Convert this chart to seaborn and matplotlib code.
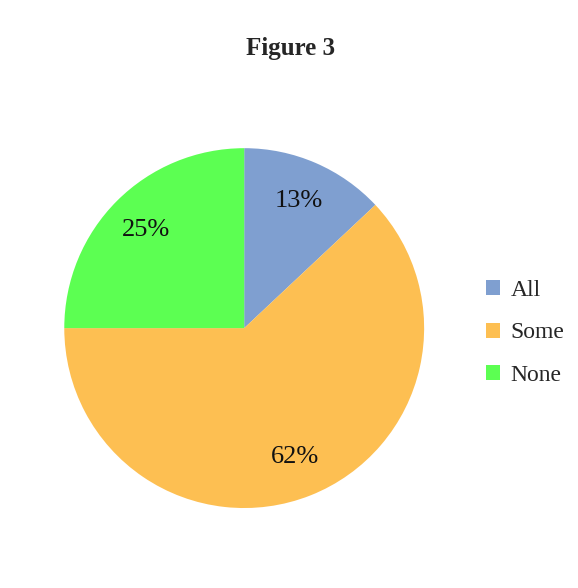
import matplotlib
matplotlib.use("Agg")
import matplotlib.pyplot as plt
import seaborn as sns

categories = ["All", "Some", "None"]
values = [13, 62, 25]
colors = ["#7f9fd0", "#fdbf52", "#5cff52"]
title = "Figure 3"

sns.set_theme(style="white")
plt.rcParams["font.family"] = ["Liberation Serif", "DejaVu Serif"]

fig = plt.figure(figsize=(5.78, 5.88), dpi=100)
ax = fig.add_axes([0.111, 0.136, 0.623, 0.612])
wedges, texts, autotexts = ax.pie(
    values, colors=sns.color_palette(colors), startangle=90, counterclock=False,
    autopct=lambda p: f"{p:.0f}%", pctdistance=0.77,
    wedgeprops=dict(linewidth=0),
    textprops=dict(fontsize=19, color="#111111"),
)
ax.set_xlim(-1, 1)
ax.set_ylim(-1, 1)
ax.set_aspect("equal")
fig.text(290 / 578, 1 - 48 / 588, title, ha="center", va="center",
         fontsize=18, fontweight="bold")
fig.legend(wedges, categories, loc="center left",
           bbox_to_anchor=(486 / 578, 1 - 333 / 588), frameon=False,
           fontsize=17, handlelength=0.6, handleheight=0.6,
           handletextpad=0.45, labelspacing=0.9, borderpad=0, borderaxespad=0)
fig.savefig("out.png", dpi=100, facecolor="white")
